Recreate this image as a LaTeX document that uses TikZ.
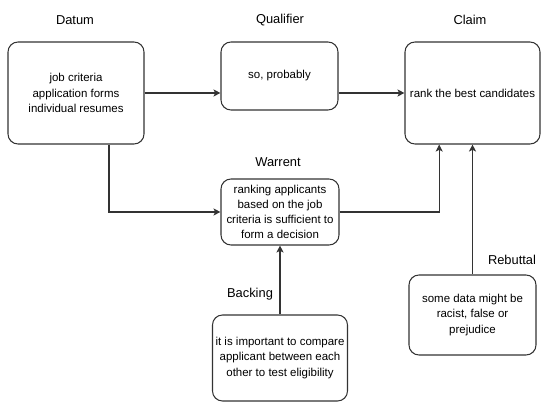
\documentclass[tikz,border=0pt]{standalone}
\usepackage{fontspec}
\setmainfont{Liberation Sans}
\usepackage{xcolor}
\usepackage{tikz}
\usetikzlibrary{arrows.meta,positioning,calc}

\definecolor{edge}{HTML}{333333}

\begin{document}
\begin{tikzpicture}[
  x=0.03cm, y=-0.03cm,
  every node/.style={font=\fontsize{9.8pt}{13pt}\selectfont},
  part/.style={draw=edge, line width=0.9pt, rounded corners=0.3cm, align=center, fill=white, inner sep=2pt},
  title/.style={font=\fontsize{11pt}{13pt}\selectfont},
  arrow/.style={-{Stealth[length=6pt,width=6pt,inset=1.5pt]}, draw=edge, line width=0.9pt}
]
  \useasboundingbox (0,0) rectangle (550,403);

  \node[part, minimum width=4.08cm, minimum height=3.06cm] (datum) at (76,93) {job criteria\\application forms\\individual resumes};
  \node[part, minimum width=3.51cm, minimum height=2.04cm] (qual) at (279.5,76) {so, probably};
  \node[part, minimum width=4.05cm, minimum height=3.06cm] (claim) at (472.5,93) {rank the best candidates};
  \node[part, minimum width=3.54cm, minimum height=1.98cm, inner sep=1pt] (warrent) at (280,212) {ranking applicants\\based on the job\\criteria is sufficient to\\form a decision};
  \node[part, minimum width=4.05cm, minimum height=2.58cm, inner sep=1pt] (backing) at (280,358) {it is important to compare\\applicant between each\\other to test eligibility};
  \node[part, minimum width=3.81cm, minimum height=2.4cm] (rebut) at (472.5,315) {some data might be\\racist, false or\\prejudice};

  \node[title] (tdatum) at (75,20) {Datum};
  \node[title] (tqual) at (280,20) {Qualifier};
  \node[title] (tclaim) at (470,20) {Claim};
  \node[title] (twarrent) at (278,162) {Warrent};
  \node[title] (tbacking) at (250,294) {Backing};
  \node[title] (trebut) at (512,260) {Rebuttal};

  \draw[arrow] (datum.east) -- (datum.east -| qual.west);
  \draw[arrow] (qual.east |- claim.west) -- (claim.west);
  \draw[arrow] ([xshift=0.99cm]datum.south) |- (warrent.west);
  \draw[arrow] (warrent.east) -| ([xshift=-1cm]claim.south);
  \draw[arrow] (backing) -- (warrent);
  \draw[arrow] (rebut) -- (claim);
\end{tikzpicture}
\end{document}
